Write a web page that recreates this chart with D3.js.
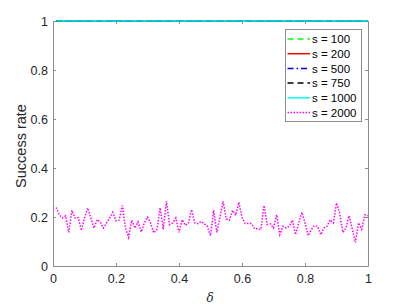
<!DOCTYPE html>
<html lang="en">
<head>
<meta charset="UTF-8">
<title>Success rate vs delta</title>
<style>
    body { margin: 0; background: white; }
    svg { font-family: "Liberation Sans", Arial, sans-serif; }
</style>
</head>
<body>
<svg width="407" height="305" id="chart"></svg>
<script src="https://d3js.org/d3.v7.min.js"></script>
<script>
// series names and styles shown in the legend
const seriesNames = ["s = 100", "s = 200", "s = 500", "s = 750", "s = 1000", "s = 2000"];
const seriesColors = ["#00ff00", "#ff0000", "#0000ff", "#000000", "#00ffff", "#ff00ff"];
const seriesDash = ["6,4", null, "6,3,1.5,3", "6,4", null, "1.5,1.5"];

// delta values 0.01 .. 1.00
const deltas = d3.range(1, 101).map(i => i / 100);

// success rates: s = 100..1000 are all 1
const rateFlat = deltas.map(() => 1);

// s = 2000
const rate2000 = [
    0.239, 0.209, 0.196, 0.205, 0.137, 0.227, 0.196, 0.198, 0.145, 0.196,
    0.237, 0.196, 0.155, 0.189, 0.180, 0.155, 0.176, 0.196, 0.219, 0.185,
    0.187, 0.247, 0.155, 0.117, 0.187, 0.155, 0.180, 0.139, 0.176, 0.200,
    0.175, 0.135, 0.149, 0.238, 0.149, 0.264, 0.169, 0.176, 0.196, 0.137,
    0.189, 0.166, 0.176, 0.230, 0.176, 0.173, 0.182, 0.173, 0.162, 0.124,
    0.227, 0.137, 0.199, 0.264, 0.192, 0.187, 0.227, 0.207, 0.260, 0.199,
    0.173, 0.173, 0.173, 0.152, 0.152, 0.149, 0.247, 0.169, 0.172, 0.155,
    0.209, 0.128, 0.162, 0.155, 0.162, 0.187, 0.128, 0.176, 0.219, 0.176,
    0.124, 0.149, 0.165, 0.162, 0.128, 0.155, 0.162, 0.189, 0.176, 0.257,
    0.216, 0.137, 0.155, 0.205, 0.151, 0.096, 0.176, 0.149, 0.209, 0.205
];

const seriesValues = [rateFlat, rateFlat, rateFlat, rateFlat, rateFlat, rate2000];

const xTicks = [0, 0.2, 0.4, 0.6, 0.8, 1];
const yTicks = [0, 0.2, 0.4, 0.6, 0.8, 1];

const svg = d3.select("#chart");
const mLeft = 53, mRight = 368, mTop = 21, mBottom = 266;
const axisColor = "#8c8c8c";

const x = d3.scaleLinear().domain([0, 1]).range([mLeft, mRight]);
const y = d3.scaleLinear().domain([0, 1]).range([mBottom, mTop]);

// axes with inward ticks
svg.append("g")
    .attr("transform", `translate(0,${mBottom})`)
    .call(d3.axisBottom(x).tickValues(xTicks).tickFormat(d3.format("")).tickSizeInner(-3).tickSizeOuter(0).tickPadding(8));
svg.append("g")
    .attr("transform", `translate(${mLeft},0)`)
    .call(d3.axisLeft(y).tickValues(yTicks).tickFormat(d3.format("")).tickSizeInner(-3).tickSizeOuter(0).tickPadding(5));
svg.append("g")
    .attr("transform", `translate(0,${mTop})`)
    .call(d3.axisTop(x).tickValues(xTicks).tickFormat("").tickSizeInner(-3).tickSizeOuter(0));
svg.append("g")
    .attr("transform", `translate(${mRight},0)`)
    .call(d3.axisRight(y).tickValues(yTicks).tickFormat("").tickSizeInner(-3).tickSizeOuter(0));

svg.selectAll(".domain, .tick line").attr("stroke", axisColor).attr("stroke-width", 1);
svg.selectAll(".tick text").attr("fill", "#262626").style("font-size", "12.5px");

// lines
const line = d3.line()
    .x((d, i) => x(deltas[i]))
    .y(d => y(d));

seriesValues.forEach((vals, k) => {
    svg.append("path")
        .datum(vals)
        .attr("d", line)
        .attr("fill", "none")
        .attr("stroke", seriesColors[k])
        .attr("stroke-width", 1.5)
        .attr("stroke-dasharray", seriesDash[k]);
});

// axis labels
svg.append("text")
    .attr("transform", `translate(25.5,146) rotate(-90)`)
    .attr("text-anchor", "middle")
    .style("font-size", "14.5px")
    .attr("fill", "#262626")
    .text("Success rate");
svg.append("text")
    .attr("x", 210)
    .attr("y", 301.5)
    .attr("text-anchor", "middle")
    .style("font-size", "12px")
    .style("font-family", "'DejaVu Serif', serif")
    .style("font-style", "italic")
    .attr("fill", "#262626")
    .text("δ");

// legend
const lg = svg.append("g");
lg.append("rect")
    .attr("x", 285.5).attr("y", 29.5)
    .attr("width", 76).attr("height", 92)
    .attr("fill", "white")
    .attr("stroke", axisColor).attr("stroke-width", 1);
seriesNames.forEach((name, k) => {
    const ly = 39 + k * 14.7;
    lg.append("line")
        .attr("x1", 287.5).attr("x2", 310)
        .attr("y1", ly).attr("y2", ly)
        .attr("stroke", seriesColors[k])
        .attr("stroke-width", 1.5)
        .attr("stroke-dasharray", seriesDash[k]);
    lg.append("text")
        .attr("x", 312)
        .attr("y", ly + 4.2)
        .style("font-size", "11.5px")
        .attr("fill", "#000")
        .text(name);
});
</script>
</body>
</html>
